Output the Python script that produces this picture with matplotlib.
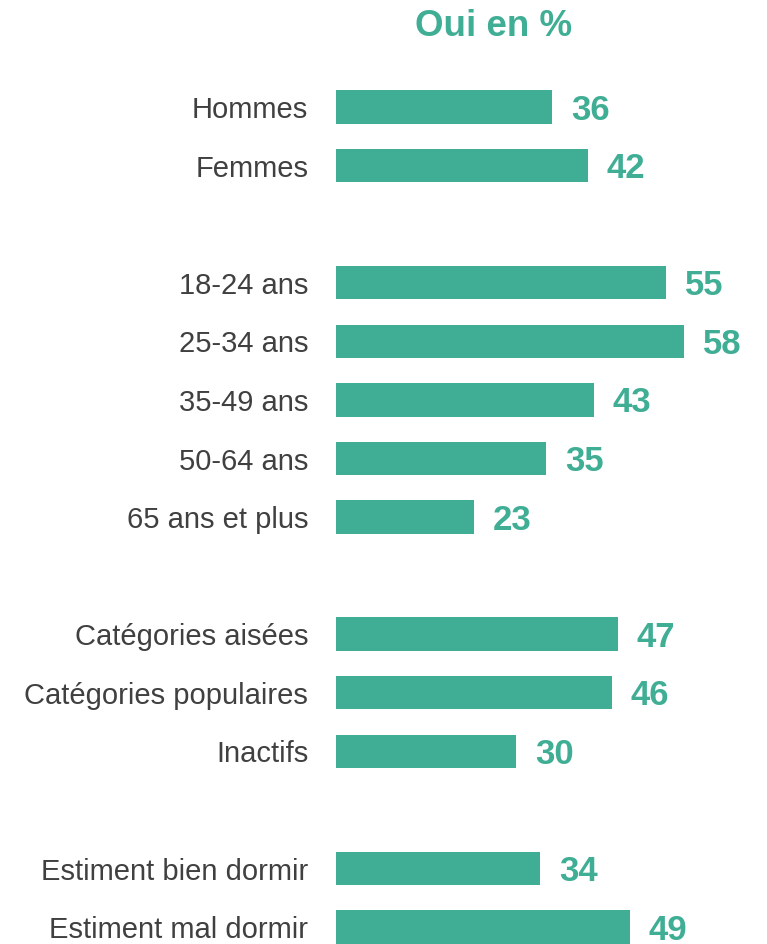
import matplotlib
matplotlib.use("Agg")
import matplotlib.pyplot as plt

plt.rcParams['font.family'] = ['Liberation Sans', 'DejaVu Sans']

categories = ["Hommes", "Femmes",
              "18-24 ans", "25-34 ans", "35-49 ans", "50-64 ans", "65 ans et plus",
              "Catégories aisées", "Catégories populaires", "Inactifs",
              "Estiment bien dormir", "Estiment mal dormir"]
values = [36, 42, 55, 58, 43, 35, 23, 47, 46, 30, 34, 49]
rows = [0, 1, 3, 4, 5, 6, 7, 9, 10, 11, 13, 14]
title = "Oui en %"

teal = "#3FAE94"
grey = "#404040"

W, H = 767, 945
fig = plt.figure(figsize=(W / 100, H / 100), dpi=100)
left_px = 336
ax = fig.add_axes([left_px / W, 0, 1 - left_px / W, 1])

y0, y13 = 108.0, 869.5
px_per_row = (y13 - y0) / 13
ytop = -y0 / px_per_row
ybot = (H - y0) / px_per_row
ax.set_ylim(ybot, ytop)
px_per_unit = 6.0
ax.set_xlim(0, (W - left_px) / px_per_unit)

ax.barh(rows, values, height=0.57, color=teal, left=0)

for r, v, c in zip(rows, values, categories):
    ax.annotate(str(v), xy=(v, r), xytext=(13.5, -1.5), textcoords="offset points",
                ha="left", va="center", fontsize=25, fontweight="bold", color=teal)
    ax.annotate(c, xy=(0, r), xytext=(-20, -1.5), textcoords="offset points",
                ha="right", va="center", fontsize=21, color=grey,
                annotation_clip=False)

ax.axis("off")

fig.text(494 / W, 1 - 26 / H, title, ha="center", va="center",
         fontsize=26.5, fontweight="bold", color=teal)

fig.savefig("out.png", dpi=100, facecolor="white")
